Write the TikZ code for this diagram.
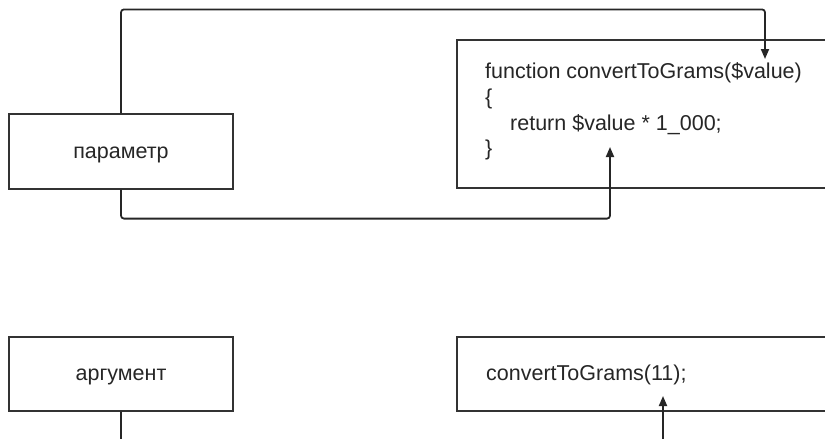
\documentclass[tikz,border=0pt]{standalone}
\usepackage{fontspec}
\setmainfont{Liberation Sans}
\usetikzlibrary{arrows.meta}
\begin{document}
\begin{tikzpicture}[x=1pt,y=-1pt,
  box/.style={draw=black!80, line width=1.2pt, fill=white, inner sep=0pt, minimum height=#1, rectangle},
  txt/.style={font=\fontsize{21.5}{25}\selectfont, text=black!85, inner sep=0pt},
  conn/.style={draw=black!85, line width=1.8pt, rounded corners=3pt, -{Triangle[length=10pt,width=8pt]}}]
\useasboundingbox (0,0) rectangle (825,439);
\clip (0,0) rectangle (825,439);
% boxes
\node[box=75pt, minimum width=224pt] (param) at (121,151.5) {};
\node[txt] (paramtxt) at ([yshift=-3pt]param.center) {параметр};
\node[box=148pt, minimum width=443pt] (code1) at (678.5,114) {};
\node[txt, anchor=base west] (l1) at (485,78) {function convertToGrams(\$value)};
\node[txt, anchor=base west] (l2) at (485,104) {\{};
\node[txt, anchor=base west] (l3) at (510,130) {return \$value * 1\_000;};
\node[txt, anchor=base west] (l4) at (485,155) {\}};
\node[box=74pt, minimum width=224pt] (arg) at (121,374) {};
\node[txt] (argtxt) at ([yshift=-3pt]arg.center) {аргумент};
\node[box=74pt, minimum width=443pt] (code2) at (678.5,374) {};
\node[txt, anchor=base west] (c2) at (486,380) {convertToGrams(11);};
% connector end points
\coordinate (p1) at (765,59);
\coordinate (p2) at (610,147);
\coordinate (a1) at (663,396);
% connectors
\draw[conn] (param.north) -- ++(0,-104) -| (p1);
\draw[conn] (param.south) -- ++(0,29) -| (p2);
\draw[conn] (arg.south) -- ++(0,60) -| (a1);
\end{tikzpicture}
\end{document}
